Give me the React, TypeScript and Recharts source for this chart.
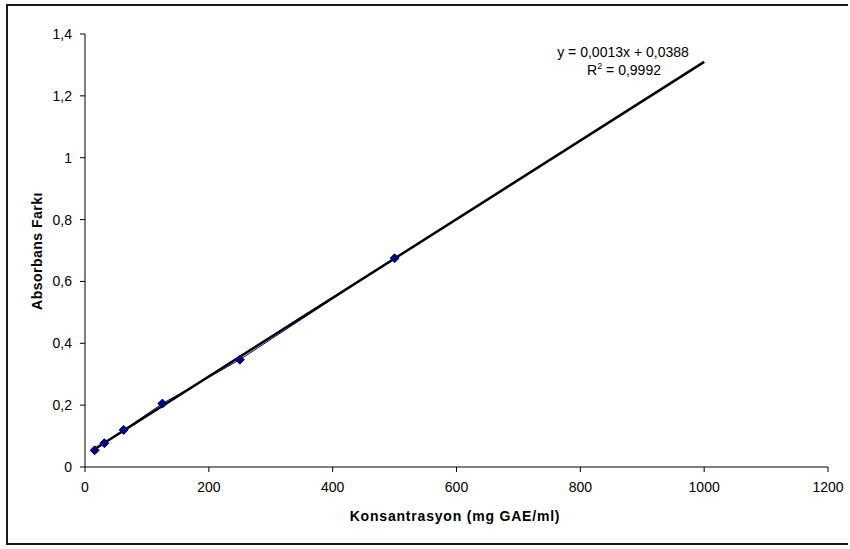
import React from "react";
import { LineChart, Line, XAxis, YAxis } from "recharts";

const concentrations = [15.625, 31.25, 62.5, 125, 250, 500];
const absorbance = [0.054, 0.077, 0.12, 0.205, 0.347, 0.675];
const trendX = [15.625, 1000];
const trendY = [0.058, 1.31];
const xTicks = [0, 200, 400, 600, 800, 1000, 1200];
const yTicks = [0, 0.2, 0.4, 0.6, 0.8, 1, 1.2, 1.4];
const xTitle = "Konsantrasyon (mg GAE/ml)";
const yTitle = "Absorbans Farkı";
const eqLine1 = "y = 0,0013x + 0,0388";
const eqR2 = "0,9992";

const points = concentrations.map((x, i) => ({ x, y: absorbance[i] }));
const trend = trendX.map((x, i) => ({ x, y: trendY[i] }));

const FONT = "'Liberation Sans', Arial, sans-serif";

const Diamond = (props: any) => {
  const { cx, cy } = props;
  if (cx == null || cy == null) return null;
  const r = 4.5;
  return (
    <polygon
      key={`d-${cx}-${cy}`}
      points={`${cx},${cy - r} ${cx + r},${cy} ${cx},${cy + r} ${cx - r},${cy}`}
      fill="#000080"
      stroke="#000080"
      strokeWidth={1}
    />
  );
};

const fmt = (v: number) => String(v).replace(".", ",");

export default function App() {
  return (
    <div style={{ position: "absolute", left: 0, top: 0, width: 850, height: 549, background: "#fff" }}>
      <LineChart
        width={850}
        height={549}
        margin={{ top: 34, right: 22, left: 0, bottom: 52 }}
        style={{ position: "absolute", left: 0, top: 0 }}
      >
        <XAxis
          type="number"
          dataKey="x"
          domain={[0, 1200]}
          ticks={xTicks}
          height={30}
          stroke="#000"
          tickSize={5}
          tickMargin={10}
          tick={{ fill: "#000", fontSize: 14, fontFamily: FONT }}
          allowDataOverflow
        />
        <YAxis
          type="number"
          dataKey="y"
          domain={[0, 1.4]}
          ticks={yTicks}
          width={85}
          stroke="#000"
          tickSize={5}
          tickMargin={8}
          tickFormatter={fmt}
          tick={{ fill: "#000", fontSize: 14, fontFamily: FONT }}
          allowDataOverflow
        />
        <Line
          data={points}
          dataKey="y"
          type="linear"
          stroke="#000080"
          strokeWidth={1}
          dot={<Diamond />}
          activeDot={false}
          isAnimationActive={false}
        />
        <Line
          data={trend}
          dataKey="y"
          type="linear"
          stroke="#000"
          strokeWidth={2.5}
          dot={false}
          activeDot={false}
          isAnimationActive={false}
        />
      </LineChart>
      <svg
        width={850}
        height={549}
        style={{ position: "absolute", left: 0, top: 0, pointerEvents: "none" }}
      >
        <path d="M 848 5 L 7 5 L 7 544 L 848 544" fill="none" stroke="#1a1a1a" strokeWidth={2} />
        <text x={623} y={57} textAnchor="middle" fontSize={14} fontFamily={FONT} fill="#000">
          {eqLine1}
        </text>
        <text x={624} y={75} textAnchor="middle" fontSize={14} fontFamily={FONT} fill="#000">
          R<tspan fontSize={9} dy={-6}>2</tspan>
          <tspan dy={6}>{" = " + eqR2}</tspan>
        </text>
        <text
          x={455}
          y={521}
          textAnchor="middle"
          fontSize={14}
          fontWeight="bold"
          fontFamily={FONT}
          letterSpacing={0.8}
          fill="#000"
        >
          {xTitle}
        </text>
        <text
          x={0}
          y={0}
          transform="translate(42,251) rotate(-90)"
          textAnchor="middle"
          fontSize={14}
          fontWeight="bold"
          fontFamily={FONT}
          letterSpacing={0.5}
          fill="#000"
        >
          {yTitle}
        </text>
      </svg>
    </div>
  );
}
